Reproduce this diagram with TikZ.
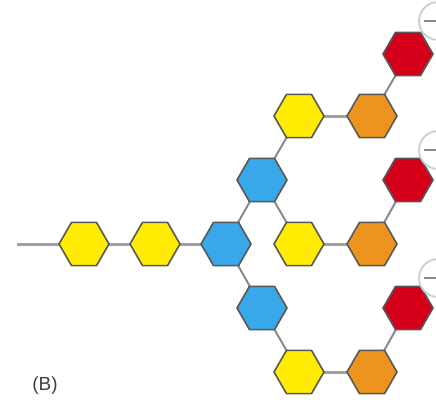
\documentclass[tikz,border=0pt]{standalone}
\usepackage{fontspec}
\setmainfont{Liberation Sans}
\usetikzlibrary{shapes.geometric,backgrounds}
\definecolor{hyel}{HTML}{FFEC00}
\definecolor{hora}{HTML}{EC941E}
\definecolor{hblu}{HTML}{38A8E8}
\definecolor{hred}{HTML}{D4001A}
\definecolor{hedge}{HTML}{585858}
\definecolor{hlink}{HTML}{8A8A8A}
\definecolor{hcirc}{HTML}{C4D2CE}
\definecolor{htext}{HTML}{404040}
\tikzset{
  hexa/.style={regular polygon, regular polygon sides=6, minimum size=50pt, inner sep=0pt, draw=hedge, line width=1.6pt},
  yel/.style={hexa, fill=hyel},
  ora/.style={hexa, fill=hora},
  blu/.style={hexa, fill=hblu},
  rd/.style={hexa, fill=hred},
  link/.style={draw=hlink, line width=2pt},
  thicklink/.style={draw=hlink!80, line width=3pt},
  charge/.style={circle, draw=hcirc, line width=1.8pt, fill=white, minimum size=38pt, inner sep=0pt},
  minus/.style={draw=hlink, line width=1.6pt}
}
\begin{document}
\begin{tikzpicture}[x=1pt,y=-1pt]
\useasboundingbox (0,0) rectangle (436,404);
\coordinate (start) at (17,244);
\node[yel] (y1) at (84,244) {};
\node[yel] (y2) at (155,244) {};
\node[blu] (b1) at (226,244) {};
\node[blu] (bu) at (262,180) {};
\node[blu] (bl) at (262,308) {};
\node[yel] (yu) at (299,116) {};
\node[yel] (ym) at (299,244) {};
\node[yel] (yl) at (299,372) {};
\node[ora] (ou) at (372,116) {};
\node[ora] (om) at (372,244) {};
\node[ora] (ol) at (372,372) {};
\node[rd] (ru) at (408,54) {};
\node[rd] (rm) at (408,180) {};
\node[rd] (rl) at (408,308) {};
\node[charge] (cu) at (438,21) {};
\node[charge] (cm) at (438,150) {};
\node[charge] (cl) at (438,278) {};
\draw[minus] (cu.center) ++(-14,0) coordinate (cua) -- (cu.center);
\draw[minus] (cm.center) ++(-14,0) coordinate (cma) -- (cm.center);
\draw[minus] (cl.center) ++(-14,0) coordinate (cla) -- (cl.center);
\node[font=\fontsize{19}{21}\selectfont, text=htext] (lab) at (45,386) {(B)};
\begin{pgfonlayer}{background}
\draw[thicklink] (start) -- (y1.center);
\draw[thicklink] (y1.center) -- (y2.center);
\draw[thicklink] (y2.center) -- (b1.center);
\draw[link] (b1.center) -- (bu.center);
\draw[link] (b1.center) -- (bl.center);
\draw[link] (bu.center) -- (yu.center);
\draw[link] (bu.center) -- (ym.center);
\draw[link] (bl.center) -- (yl.center);
\draw[thicklink] (yu.center) -- (ou.center);
\draw[thicklink] (ym.center) -- (om.center);
\draw[thicklink] (yl.center) -- (ol.center);
\draw[link] (ou.center) -- (ru.center);
\draw[link] (om.center) -- (rm.center);
\draw[link] (ol.center) -- (rl.center);
\end{pgfonlayer}
\end{tikzpicture}
\end{document}
